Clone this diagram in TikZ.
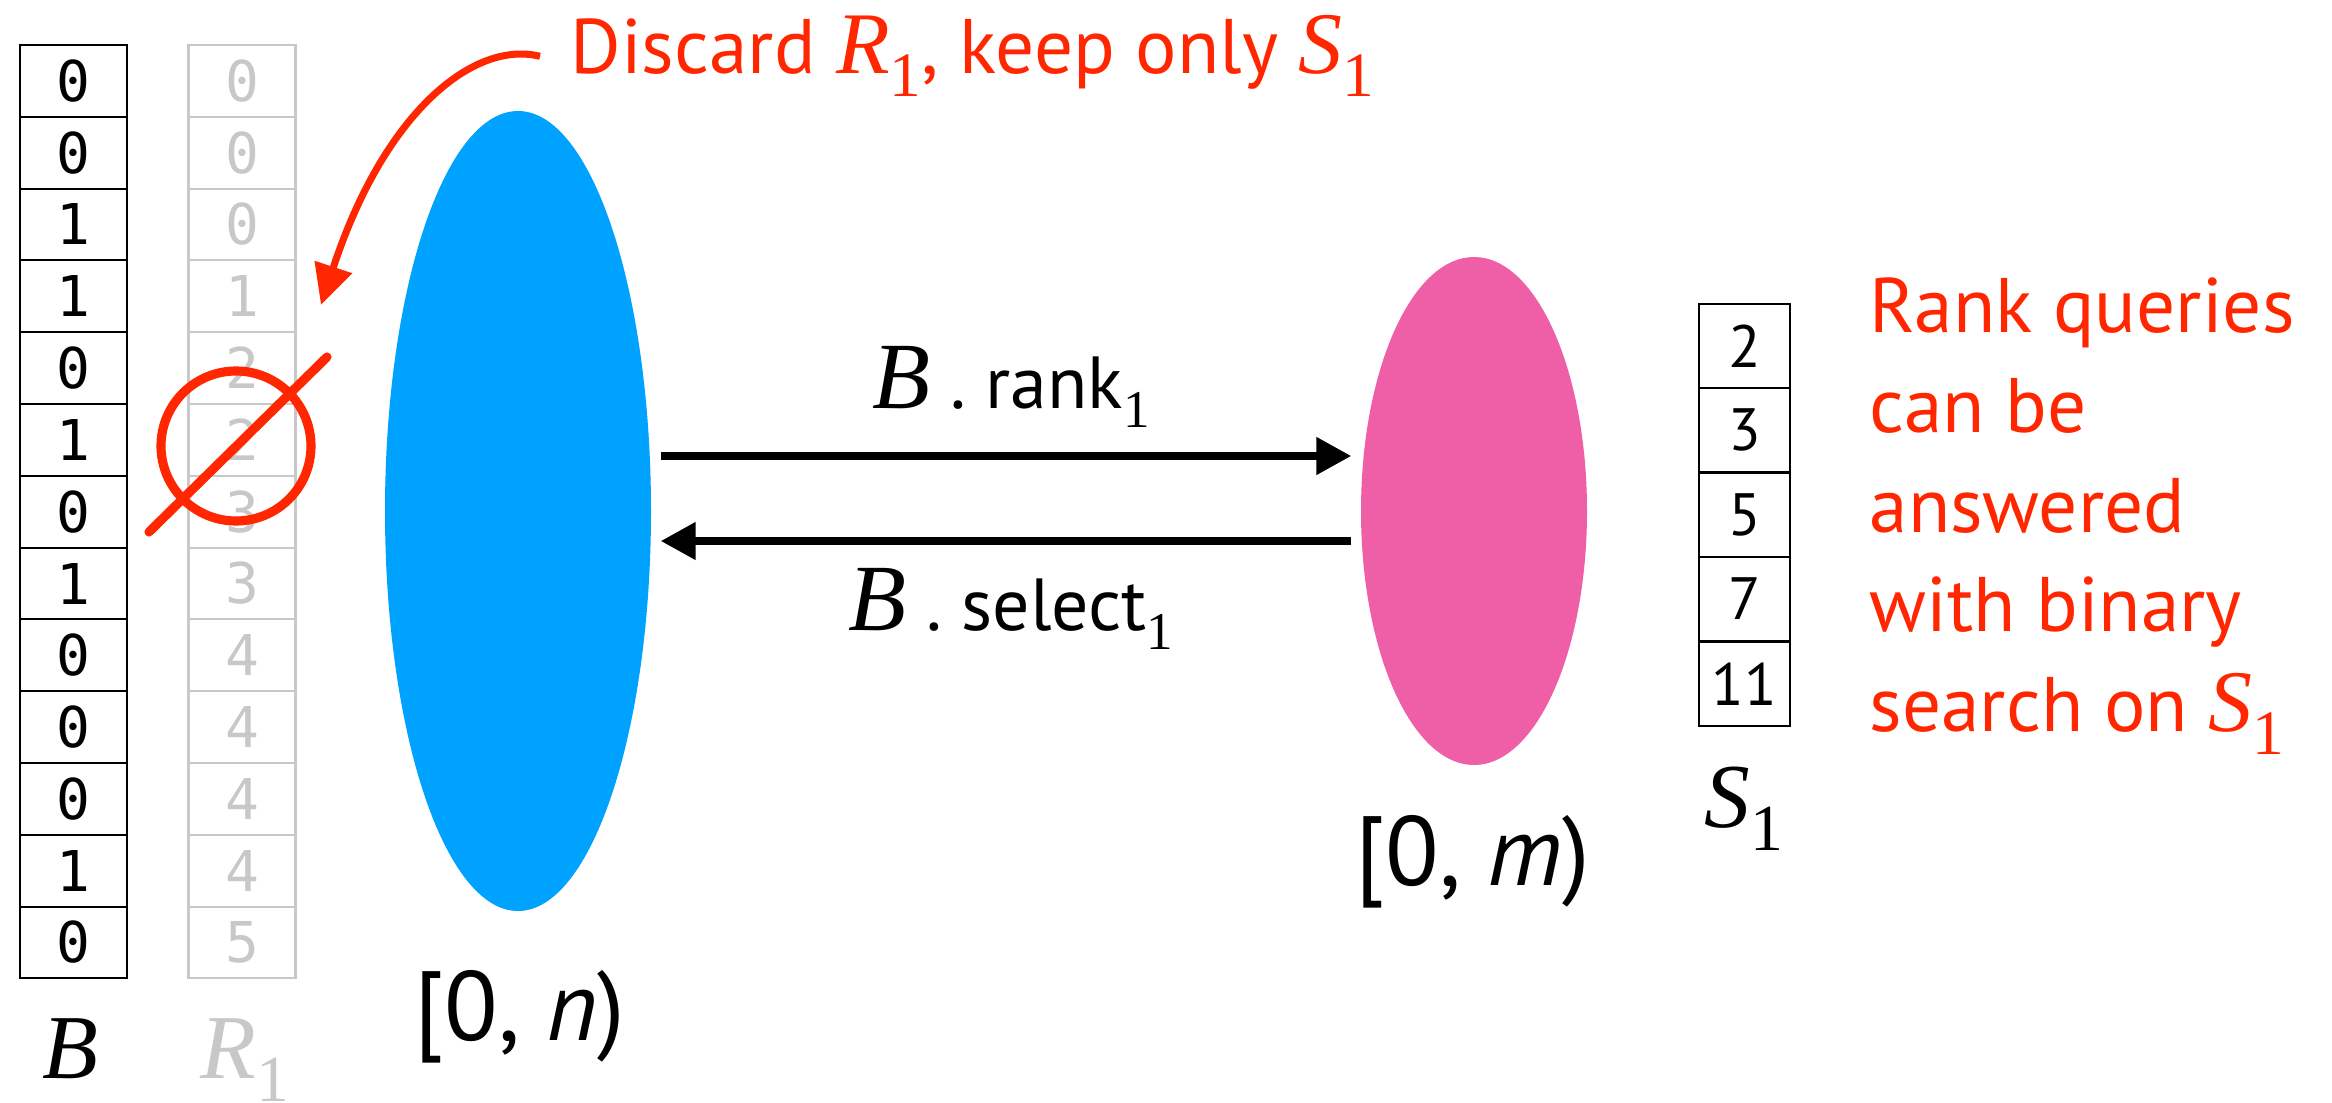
\documentclass[tikz,border=0pt]{standalone}
\usepackage{fontspec}
\setmainfont{PT Sans}
\setmonofont{DejaVu Sans Mono}
\newfontfamily\mathserif{Liberation Serif}
\usetikzlibrary{arrows.meta,shapes.geometric,positioning}

\definecolor{alertred}{RGB}{255,38,0}
\definecolor{setblue}{RGB}{0,162,255}
\definecolor{setpink}{RGB}{239,95,167}
\definecolor{faded}{RGB}{200,200,200}

\newcommand{\vname}[1]{{\mathserif\itshape #1}}
\newcommand{\vsub}[1]{\raisebox{-0.26em}{\scalebox{0.72}{\mathserif #1}}}

\begin{document}
\begin{tikzpicture}[
    bit/.style={draw, line width=0.6pt, minimum width=1.07cm, minimum height=0.718cm, inner sep=0pt, font=\fontsize{16}{18}\selectfont\ttfamily},
    rnk/.style={bit, draw=faded, text=faded},
    sel/.style={draw, line width=0.6pt, minimum width=0.91cm, minimum height=0.843cm, inner sep=0pt, font=\fontsize{17}{19}\selectfont},
    region/.style={ellipse, inner sep=0pt},
    lbl/.style={anchor=base, inner sep=0pt},
    note/.style={anchor=base west, inner sep=0pt, text=alertred, align=left, font=\fontsize{22}{28.4}\selectfont},
    arr/.style={-{Triangle[length=0.35cm, width=0.36cm]}, line width=2.2pt},
    redarr/.style={-{Triangle[length=0.40cm, width=0.38cm]}, alertred, line width=2pt},
    scribble/.style={draw=alertred, line width=2.6pt, line cap=round}
]
\useasboundingbox (0,0) rectangle (23.32,-11.03);

% bit vector B
\node[bit] (b1) at (0.735,-0.809) {0};
\node[bit] (b2) at (0.735,-1.527) {0};
\node[bit] (b3) at (0.735,-2.245) {1};
\node[bit] (b4) at (0.735,-2.963) {1};
\node[bit] (b5) at (0.735,-3.681) {0};
\node[bit] (b6) at (0.735,-4.399) {1};
\node[bit] (b7) at (0.735,-5.117) {0};
\node[bit] (b8) at (0.735,-5.835) {1};
\node[bit] (b9) at (0.735,-6.553) {0};
\node[bit] (b10) at (0.735,-7.271) {0};
\node[bit] (b11) at (0.735,-7.989) {0};
\node[bit] (b12) at (0.735,-8.707) {1};
\node[bit] (b13) at (0.735,-9.425) {0};

% rank array R1 (faded)
\node[rnk] (r1) at (2.42,-0.809) {0};
\node[rnk] (r2) at (2.42,-1.527) {0};
\node[rnk] (r3) at (2.42,-2.245) {0};
\node[rnk] (r4) at (2.42,-2.963) {1};
\node[rnk] (r5) at (2.42,-3.681) {2};
\node[rnk] (r6) at (2.42,-4.399) {2};
\node[rnk] (r7) at (2.42,-5.117) {3};
\node[rnk] (r8) at (2.42,-5.835) {3};
\node[rnk] (r9) at (2.42,-6.553) {4};
\node[rnk] (r10) at (2.42,-7.271) {4};
\node[rnk] (r11) at (2.42,-7.989) {4};
\node[rnk] (r12) at (2.42,-8.707) {4};
\node[rnk] (r13) at (2.42,-9.425) {5};

\node[lbl, font=\fontsize{26}{30}\selectfont] (bname) at (0.70,-10.78) {\vname{B}};
\node[lbl, text=faded, font=\fontsize{26}{30}\selectfont] (rname) at (2.45,-10.78) {\vname{R}\vsub{1}};

% the two ranges
\node[region, fill=setblue, minimum width=2.66cm, minimum height=8cm] (rangeN) at (5.18,-5.11) {};
\node[region, fill=setpink, minimum width=2.26cm, minimum height=5.08cm] (rangeM) at (14.74,-5.11) {};
\node[lbl, font=\fontsize{28}{32}\selectfont] (nlabel) at (5.20,-10.40) {[0, \textit{n})};
\node[lbl, font=\fontsize{28}{32}\selectfont] (mlabel) at (14.73,-8.85) {[0, \textit{m})};

\draw[arr] ([shift={(0.09,0.55)}]rangeN.east) -- ([shift={(-0.09,0.55)}]rangeM.west);
\draw[arr] ([shift={(-0.09,-0.30)}]rangeM.west) -- ([shift={(0.09,-0.30)}]rangeN.east);
\node[lbl, font=\fontsize{21}{24}\selectfont] (rankq) at (10.11,-4.08) {{\fontsize{27}{30}\selectfont\vname{B}} .\ rank\vsub{1}};
\node[lbl, font=\fontsize{21}{24}\selectfont] (selq) at (10.11,-6.30) {{\fontsize{27}{30}\selectfont\vname{B}} .\ select\vsub{1}};

% sampled array S1
\node[sel] (s1) at (17.445,-3.46) {2};
\node[sel] (s2) at (17.445,-4.30) {3};
\node[sel] (s3) at (17.445,-5.15) {5};
\node[sel] (s4) at (17.445,-5.99) {7};
\node[sel] (s5) at (17.445,-6.84) {11};
\node[lbl, font=\fontsize{26}{30}\selectfont] (sname) at (17.44,-8.27) {\vname{S}\vsub{1}};

% red notes
\node[note] (discard) at (5.70,-0.74) {Discard {\fontsize{25}{28}\selectfont\vname{R}\vsub{1}}, keep only {\fontsize{25}{28}\selectfont\vname{S}\vsub{1}}};
\node[note] (answer) at (18.69,-7.317) {Rank queries\\can be\\answered\\with binary\\search on {\fontsize{25}{28}\selectfont\vname{S}\vsub{1}}};

\coordinate (hit) at (3.21,-3.05);
\draw[redarr] ([xshift=-3mm]discard.west) .. controls (4.75,-0.40) and (3.85,-1.10) .. (hit);

% crossed out
\draw[scribble] (2.36,-4.46) circle (0.75);
\draw[scribble] (1.49,-5.32) -- (3.27,-3.57);
\end{tikzpicture}
\end{document}
